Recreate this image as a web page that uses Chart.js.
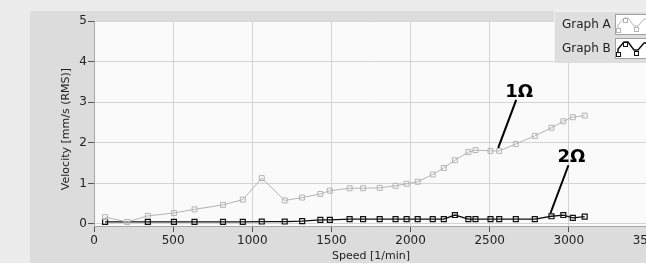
<!DOCTYPE html>
<html>
<head>
<meta charset="utf-8">
<script src="https://cdn.jsdelivr.net/npm/chart.js@4"></script>
<style>
  html, body { margin: 0; padding: 0; background: #ececec; overflow: hidden; }
  #wrap { width: 700px; height: 263px; }
</style>
</head>
<body>
<div id="wrap"><canvas id="mycanvas" width="700" height="263"></canvas></div>
<script>
// speed [1/min] of each measuring point
var speeds = [70, 210, 340, 505, 635, 815, 940, 1060, 1205, 1315, 1430, 1490, 1615, 1700, 1805, 1905,
  1975, 2045, 2140, 2210, 2280, 2365, 2410, 2505, 2560, 2665, 2785, 2890, 2965, 3025, 3100];
// velocity [mm/s RMS]
var graphA = [0.17, 0.05, 0.2, 0.27, 0.36, 0.47, 0.6, 1.13, 0.58, 0.65, 0.74, 0.82, 0.88, 0.88, 0.89, 0.94,
  0.99, 1.04, 1.22, 1.38, 1.57, 1.77, 1.82, 1.8, 1.8, 1.97, 2.17, 2.37, 2.53, 2.63, 2.67];
var graphB = [0.05, null, 0.05, 0.05, 0.05, 0.05, 0.05, 0.06, 0.06, 0.07, 0.1, 0.1, 0.12, 0.12, 0.12, 0.12,
  0.12, 0.12, 0.12, 0.12, 0.22, 0.12, 0.12, 0.12, 0.12, 0.12, 0.12, 0.19, 0.22, 0.15, 0.18];
var seriesNames = ['Graph A', 'Graph B'];
var xTicks = [0, 500, 1000, 1500, 2000, 2500, 3000, 3500];
var yTicks = [0, 1, 2, 3, 4, 5];
// callouts: text, dataset, point index
var callouts = [
  { text: '1Ω', ds: 0, idx: 24 },
  { text: '2Ω', ds: 1, idx: 27 }
];

var FONT = '"DejaVu Sans", sans-serif';
var colA = '#b4b4b4';
var colB = '#111111';

function points(vals) {
  var out = [];
  for (var i in speeds) {
    if (vals[i] !== null) out.push({ x: speeds[i], y: vals[i] });
  }
  return out;
}

var chartPlugin = {
  id: 'panel',
  beforeDraw: function(chart) {
    var ctx = chart.ctx, a = chart.chartArea;
    ctx.save();
    ctx.fillStyle = '#ececec';
    ctx.fillRect(0, 0, chart.width, chart.height);
    ctx.fillStyle = '#dcdcdc';
    ctx.fillRect(30, 11, chart.width - 30, chart.height - 11);
    ctx.fillStyle = '#fafafa';
    ctx.fillRect(a.left, a.top, a.right - a.left, a.bottom - a.top);
    ctx.restore();
  },
  afterDraw: function(chart) {
    var ctx = chart.ctx, a = chart.chartArea;
    ctx.save();
    // axis titles
    ctx.fillStyle = '#222';
    ctx.font = '11px ' + FONT;
    ctx.textAlign = 'center';
    ctx.textBaseline = 'middle';
    ctx.fillText('Speed [1/min]', (a.left + a.right) / 2, 256);
    ctx.save();
    ctx.translate(66, 129);
    ctx.rotate(-Math.PI / 2);
    ctx.fillText('Velocity [mm/s (RMS)]', 0, 0);
    ctx.restore();

    // callouts
    callouts.forEach(function(c) {
      var meta = chart.getDatasetMeta(c.ds);
      var dsData = chart.data.datasets[c.ds].data;
      var target = null;
      for (var k = 0; k < dsData.length; k++) {
        if (dsData[k].x === speeds[c.idx]) target = meta.data[k];
      }
      if (!target) return;
      var tx = target.x - 1, ty = target.y - 3;
      var sx = tx + 18, sy = ty - 48;
      ctx.strokeStyle = '#000';
      ctx.lineWidth = 2;
      ctx.beginPath();
      ctx.moveTo(sx, sy);
      ctx.lineTo(tx, ty);
      ctx.stroke();
      ctx.fillStyle = '#000';
      ctx.font = 'bold 18px ' + FONT;
      ctx.textAlign = 'center';
      ctx.fillText(c.text, sx + 3, sy - 8);
    });

    // legend
    var lx = 554, ly = 11;
    ctx.fillStyle = '#dedede';
    ctx.fillRect(lx, ly, chart.width - lx, 52);
    ctx.strokeStyle = '#f2f2f2';
    ctx.lineWidth = 1;
    ctx.beginPath();
    ctx.moveTo(lx + 0.5, ly + 52);
    ctx.lineTo(lx + 0.5, ly + 0.5);
    ctx.lineTo(chart.width, ly + 0.5);
    ctx.stroke();
    seriesNames.forEach(function(name, i) {
      var y0 = 14 + i * 24;
      ctx.fillStyle = '#222';
      ctx.font = '12px ' + FONT;
      ctx.textAlign = 'left';
      ctx.textBaseline = 'middle';
      ctx.fillText(name, 562, y0 + 11);
      ctx.fillStyle = '#ffffff';
      ctx.fillRect(615, y0, 60, 21);
      ctx.strokeStyle = '#a0a0a0';
      ctx.strokeRect(615.5, y0 + 0.5, 60, 20);
      var col = i === 0 ? colA : colB;
      var pts = [[618, y0 + 14], [618, y0 + 11], [624, y0 + 4], [628, y0 + 4], [634, y0 + 12], [638, y0 + 12], [644, y0 + 5], [648, y0 + 5]];
      ctx.strokeStyle = col;
      ctx.lineWidth = i === 0 ? 1 : 1.5;
      ctx.beginPath();
      pts.forEach(function(q, j) { if (j === 0) ctx.moveTo(q[0], q[1]); else ctx.lineTo(q[0], q[1]); });
      ctx.stroke();
      ctx.lineWidth = 1;
      [[618, y0 + 16], [625, y0 + 6], [636, y0 + 15]].forEach(function(q) {
        ctx.fillStyle = '#fff';
        ctx.fillRect(q[0] - 2, q[1] - 2, 5, 5);
        ctx.strokeRect(q[0] - 2 + 0.5, q[1] - 2 + 0.5, 4, 4);
      });
    });
    ctx.restore();
  }
};

var ctx = document.getElementById('mycanvas');

var chartdata = {
  datasets: [
    {
      label: seriesNames[0],
      data: points(graphA),
      borderColor: colA,
      borderWidth: 1,
      pointStyle: 'rect',
      pointRadius: 3.5,
      pointBorderWidth: 1,
      pointBorderColor: colA,
      pointBackgroundColor: 'rgba(250,250,250,0)'
    },
    {
      label: seriesNames[1],
      data: points(graphB),
      borderColor: colB,
      borderWidth: 1.3,
      pointStyle: 'rect',
      pointRadius: 3.5,
      pointBorderWidth: 1.2,
      pointBorderColor: colB,
      pointBackgroundColor: 'rgba(250,250,250,0)'
    }
  ]
};

var lineGraph = new Chart(ctx, {
  type: 'line',
  data: chartdata,
  plugins: [chartPlugin],
  options: {
    responsive: false,
    animation: false,
    layout: { padding: { top: 21, right: 52, bottom: 0, left: 0 } },
    plugins: { legend: { display: false }, tooltip: { enabled: false } },
    scales: {
      x: {
        type: 'linear',
        min: 0,
        max: 3500,
        afterBuildTicks: function(s) { s.ticks = xTicks.map(function(v) { return { value: v }; }); },
        afterFit: function(s) { s.height = 37; },
        grid: { color: '#d4d4d4', tickColor: '#555', tickLength: 6 },
        border: { color: '#a8a8a8' },
        ticks: { color: '#222', font: { family: FONT, size: 12 }, padding: 2, maxRotation: 0,
          callback: function(v) { return String(v); } }
      },
      y: {
        min: -0.05,
        max: 5,
        afterBuildTicks: function(s) { s.ticks = yTicks.map(function(v) { return { value: v }; }); },
        afterFit: function(s) { s.width = 94; },
        grid: { color: '#d4d4d4', tickColor: '#555', tickLength: 6 },
        border: { color: '#a8a8a8' },
        ticks: { color: '#222', font: { family: FONT, size: 12 }, padding: 1,
          callback: function(v) { return String(v); } }
      }
    }
  }
});
</script>
</body>
</html>
